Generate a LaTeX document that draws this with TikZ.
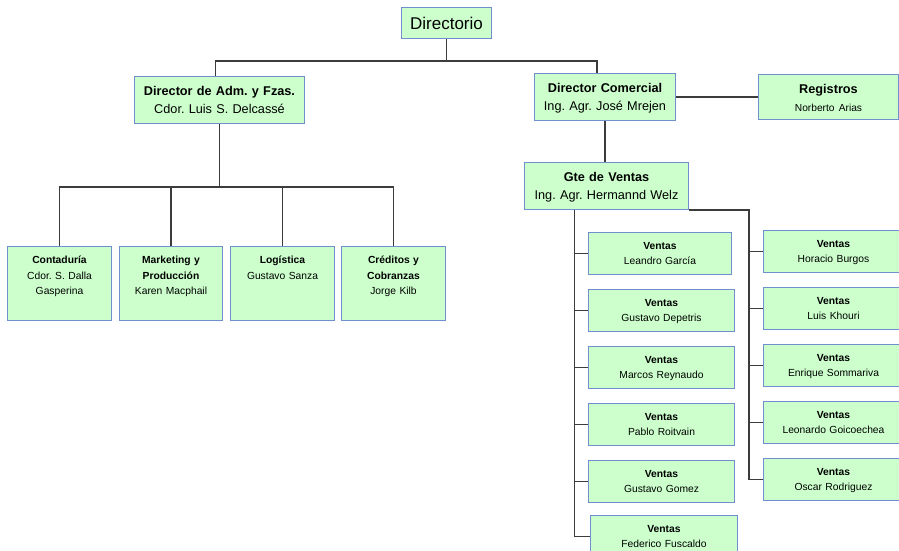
\documentclass[tikz,border=0pt]{standalone}
\usepackage{fontspec}
\setmainfont{Liberation Sans}
\usepackage{tikz}
\usetikzlibrary{positioning, calc}
\definecolor{orgfill}{HTML}{CCFFCC}
\definecolor{orgedge}{HTML}{6F8FCF}
\definecolor{orgline}{HTML}{3C3C3C}
\frenchspacing

\begin{document}
\begin{tikzpicture}[
  x=1pt, y=-1pt,
  box/.style={
    rectangle, draw=orgedge, fill=orgfill, line width=1pt,
    inner sep=0pt, anchor=north west, align=center
  },
  head/.style={box, text width=90pt, text height=22pt, text depth=9pt,
    font=\fontsize{17}{20}\selectfont},
  mgr/.style={box, text height=19pt, text depth=28pt,
    font=\fontsize{12.7}{18}\selectfont},
  dept/.style={box, text width=104pt, text height=17pt, text depth=57pt,
    font=\fontsize{10.3}{15.5}\selectfont},
  sale/.style={box, text width=145pt, text height=17pt, text depth=25pt,
    font=\fontsize{10.3}{15}\selectfont},
  link/.style={draw=orgline, line width=1.2pt},
]
\useasboundingbox (0,0) rectangle (899,550);

% Direccion
\node[head] (dir) at (401,7) {Directorio};
\node[mgr, text width=170pt] (adm) at (134,76) {\textbf{Director de Adm. y Fzas.}\\Cdor. Luis S. Delcassé};
\node[mgr, text width=141pt] (com) at (534,73) {\textbf{Director Comercial}\\Ing. Agr. José Mrejen};
\node[mgr, text width=140pt, text depth=26pt] (reg) at (758,74)
  {\textbf{Registros}\\{\fontsize{10.2}{14}\selectfont Norberto Arias}};
\node[mgr, text width=164pt] (gte) at (524,162) {\textbf{Gte de Ventas}\\Ing. Agr. Hermannd Welz};

% Areas de administracion
\node[dept] (cont) at (7,246) {\textbf{Contaduría}\\Cdor. S. Dalla\\Gasperina};
\node[dept, text width=103pt] (mkt) at (119,246) {\textbf{Marketing y}\\\textbf{Producción}\\Karen Macphail};
\node[dept] (logi) at (230,246) {\textbf{Logística}\\Gustavo Sanza};
\node[dept] (cred) at (341,246) {\textbf{Créditos y}\\\textbf{Cobranzas}\\Jorge Kilb};

% Vendedores
\node[sale, text width=143pt] (v1) at (588,232) {\textbf{Ventas}\\Leandro García};
\node[sale, text width=146pt] (v2) at (588,289) {\textbf{Ventas}\\Gustavo Depetris};
\node[sale, text width=146pt] (v3) at (588,346) {\textbf{Ventas}\\Marcos Reynaudo};
\node[sale, text width=146pt] (v4) at (588,403) {\textbf{Ventas}\\Pablo Roitvain};
\node[sale, text width=146pt] (v5) at (588,460) {\textbf{Ventas}\\Gustavo Gomez};
\node[sale, text width=147pt] (v6) at (590,515) {\textbf{Ventas}\\Federico Fuscaldo};

\node[sale, text width=140pt] (w1) at (763,230) {\textbf{Ventas}\\Horacio Burgos};
\node[sale, text width=140pt] (w2) at (763,287) {\textbf{Ventas}\\Luis Khouri};
\node[sale, text width=140pt] (w3) at (763,344) {\textbf{Ventas}\\Enrique Sommariva};
\node[sale, text width=140pt] (w4) at (763,401) {\textbf{Ventas}\\Leonardo Goicoechea};
\node[sale, text width=140pt] (w5) at (763,458) {\textbf{Ventas}\\Oscar Rodriguez};

% Lineas
\draw[link] (dir.south) -- ++(0,22) coordinate (jtop);
\draw[link] ([xshift=-4pt]adm.north) |- (jtop) -| ([xshift=-8pt]com.north);
\draw[link] (com.east) -- (reg.west);
\draw[link] (com.south) -- (com.south |- gte.north);

\draw[link] (adm.south) -- ++(0,63) coordinate (jadm);
\foreach \n in {cont,mkt,logi,cred}
  \draw[link] (jadm) -| (\n.north);

\coordinate (gl) at ([xshift=-32pt]gte.south);
\draw[link] (gl) |- (v6.west);
\foreach \n in {v1,v2,v3,v4,v5}
  \draw[link] (gl |- \n.west) -- (\n.west);

\coordinate (gr) at ([xshift=60pt]gte.south east);
\draw[link] (gte.south east) -- (gr) |- (w5.west);
\foreach \n in {w1,w2,w3,w4}
  \draw[link] (gr |- \n.west) -- (\n.west);

\end{tikzpicture}
\end{document}
